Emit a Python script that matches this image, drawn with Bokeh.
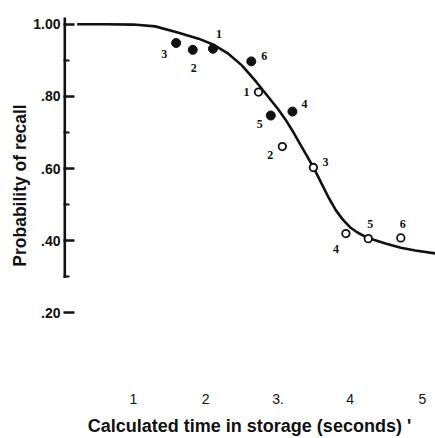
from bokeh.plotting import figure
from bokeh.models import FixedTicker, Range1d, ColumnDataSource
from bokeh.core.properties import value
from bokeh.embed import file_html
from bokeh.resources import INLINE

# fitted curve
curve_x = [0.22, 0.6, 1.0, 1.3, 1.6, 1.9, 2.1, 2.3, 2.5, 2.7, 2.8, 2.9, 3.0, 3.1, 3.2,
           3.3, 3.4, 3.5, 3.6, 3.7, 3.8, 3.9, 4.0, 4.1, 4.2, 4.3, 4.5, 4.7, 4.9, 5.18]
curve_y = [1.0, 1.0, 0.999, 0.994, 0.978, 0.960, 0.944, 0.920, 0.886, 0.840, 0.815, 0.790,
           0.765, 0.737, 0.705, 0.670, 0.635, 0.60, 0.56, 0.52, 0.485, 0.458, 0.437, 0.423,
           0.412, 0.404, 0.392, 0.381, 0.373, 0.365]

# filled circles
closed_x = [1.59, 1.82, 2.10, 2.63, 2.90, 3.20]
closed_y = [0.948, 0.929, 0.932, 0.897, 0.747, 0.758]
closed_lab = ["3", "2", "1", "6", "5", "4"]

# open circles
open_x = [2.73, 3.06, 3.49, 3.94, 4.25, 4.70]
open_y = [0.812, 0.661, 0.603, 0.420, 0.406, 0.408]
open_lab = ["1", "2", "3", "4", "5", "6"]

x_ticks = [1, 2, 3, 4, 5]
x_tick_labels = ["1", "2", "3.", "4", "5"]
y_ticks = [0.2, 0.4, 0.6, 0.8, 1.0]
y_tick_labels = [".20", ".40", ".60", ".80", "1.00"]
y_minor = [0.3, 0.5, 0.7, 0.9]
y_axis_span = [0.297, 1.02]

# label placement (screen px offsets)
closed_dx = [-12, 1, 6, 13, -11, 12]
closed_dy = [11, 18, -15, -5, 8, -8]
open_dx = [-12, -12, 12, -10, 2, 2]
open_dy = [0, 8, -6, 15, -15, -14]

X0, X1 = 0.031, 5.18
p = figure(width=435, height=438, output_backend="svg", toolbar_location=None,
           x_range=Range1d(X0, X1), y_range=Range1d(0.0878, 1.0186),
           min_border_left=63, min_border_top=17, min_border_right=0, min_border_bottom=85)
p.outline_line_color = None
p.grid.grid_line_color = None
p.background_fill_color = "white"
p.border_fill_color = "white"

ink = "#111111"

# vertical axis line (drawn as a glyph so that it can stop at .30)
p.segment(x0=[X0], y0=[y_axis_span[0]], x1=[X0], y1=[y_axis_span[1]],
          line_color=ink, line_width=5.2)

p.line(curve_x, curve_y, line_color=ink, line_width=2.6)

p.scatter(closed_x, closed_y, size=9, marker="circle", fill_color=ink, line_color=ink)
p.scatter(open_x, open_y, size=7.5, marker="circle", fill_color="white", line_color=ink,
          line_width=1.8)

src_c = ColumnDataSource(dict(x=closed_x, y=closed_y, t=closed_lab, dx=closed_dx, dy=closed_dy))
src_o = ColumnDataSource(dict(x=open_x, y=open_y, t=open_lab, dx=open_dx, dy=open_dy))
for s in (src_c, src_o):
    p.text(x="x", y="y", text="t", x_offset="dx", y_offset="dy", source=s,
           text_align="center", text_baseline="middle",
           text_font=value("Liberation Serif"), text_font_style="bold",
           text_font_size="12px", text_color=ink)

# x axis
xa = p.xaxis[0]
xa.ticker = FixedTicker(ticks=x_ticks)
xa.major_label_overrides = {t: l for t, l in zip(x_ticks, x_tick_labels)}
xa.axis_line_color = None
xa.major_tick_line_color = None
xa.minor_tick_line_color = None
xa.major_label_standoff = 34
xa.major_label_text_font = "Liberation Sans"
xa.major_label_text_font_size = "14px"
xa.major_label_text_color = ink
xa.axis_label = "Calculated time in storage (seconds) '"
xa.axis_label_text_font = "Liberation Sans"
xa.axis_label_text_font_style = "bold"
xa.axis_label_text_font_size = "18px"
xa.axis_label_text_color = ink
xa.axis_label_standoff = 9

# y axis
ya = p.yaxis[0]
ya.ticker = FixedTicker(ticks=y_ticks, minor_ticks=y_minor)
ya.major_label_overrides = {t: l for t, l in zip(y_ticks, y_tick_labels)}
ya.axis_line_color = None
ya.major_tick_in = 11
ya.major_tick_out = 0
ya.minor_tick_in = 6
ya.minor_tick_out = 0
ya.major_tick_line_width = 2.6
ya.minor_tick_line_width = 2.2
ya.major_tick_line_color = ink
ya.minor_tick_line_color = ink
ya.major_label_standoff = 3
ya.major_label_text_font = "Liberation Sans"
ya.major_label_text_font_style = "bold"
ya.major_label_text_font_size = "14px"
ya.major_label_text_color = ink
ya.axis_label = "Probability of recall"
ya.axis_label_text_font = "Liberation Sans"
ya.axis_label_text_font_style = "bold"
ya.axis_label_text_font_size = "17.5px"
ya.axis_label_text_color = ink
ya.axis_label_standoff = 0

open("out.html", "w").write(file_html(p, INLINE))
